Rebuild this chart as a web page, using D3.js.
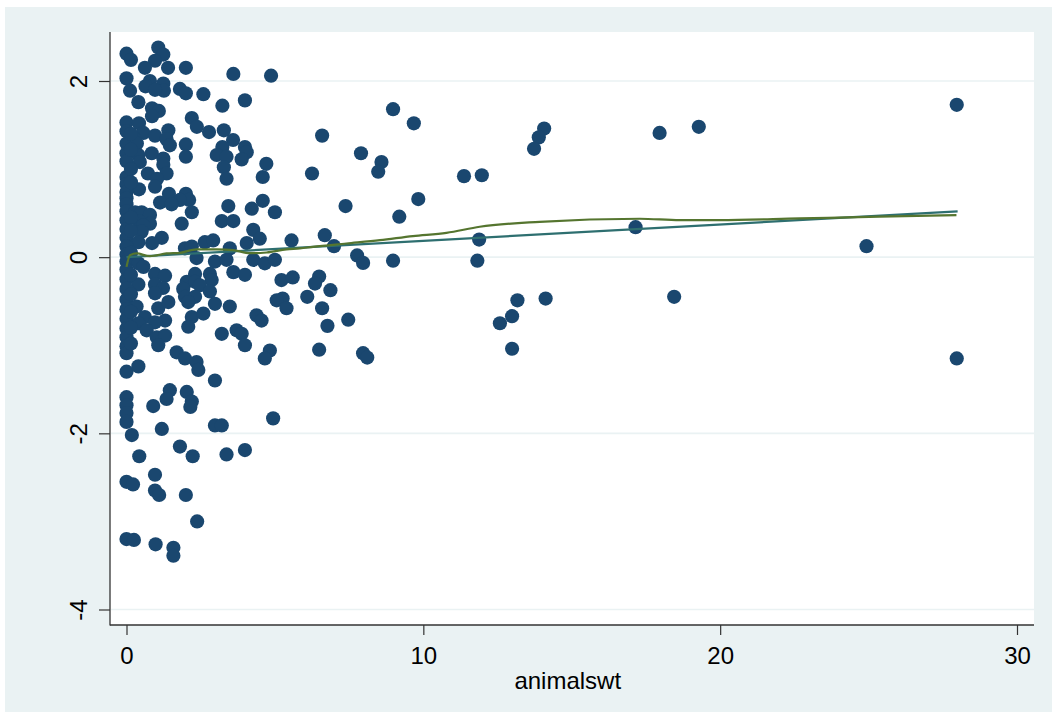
<!DOCTYPE html>
<html>
<head>
<meta charset="utf-8">
<script src="https://cdn.jsdelivr.net/npm/d3@7"></script>
<style>
  html, body { margin: 0; padding: 0; background: #ffffff; }
  svg { display: block; }
  text { font-family: Arial, "Liberation Sans", sans-serif; fill: #000; }
</style>
</head>
<body>
<svg id="chart" width="1058" height="719"></svg>
<script>
// Scatter of (animalswt, value) pairs
const points = [
  [0.00,2.31],[0.15,2.24],[1.07,2.38],[1.24,2.30],[0.96,2.23],[0.62,2.15],[1.40,2.15],[2.00,2.15],[0.00,2.03],[3.60,2.08],[4.87,2.06],[0.79,2.00],[0.64,1.94],[1.24,1.97],[1.26,1.89],[0.96,1.90],[0.12,1.89],[1.80,1.91],[2.00,1.86],[2.59,1.85],[0.40,1.76],[3.23,1.72],[3.99,1.78],[0.86,1.69],[1.09,1.66],[0.86,1.60],
  [0.00,1.53],[0.42,1.52],[2.20,1.58],[2.37,1.48],[2.78,1.42],[3.28,1.44],[1.41,1.44],[0.00,1.43],[0.57,1.41],[0.96,1.38],[0.23,1.36],[1.35,1.34],[3.59,1.33],[2.00,1.28],[0.00,1.29],[0.35,1.29],[1.46,1.27],[3.23,1.25],[3.99,1.25],[0.00,1.18],[0.40,1.16],[0.85,1.18],[3.04,1.16],[3.37,1.14],[4.05,1.19],[0.00,1.09],[0.45,1.08],[1.24,1.12],[2.00,1.14],[3.88,1.11],[4.71,1.06],[1.24,1.05],[3.28,1.02],
  [0.72,0.95],[1.35,0.95],[0.00,0.91],[1.03,0.89],[3.37,0.89],[4.59,0.91],[0.00,0.83],[0.96,0.80],[0.42,0.77],[0.00,0.74],[0.00,0.67],[1.43,0.72],[2.00,0.72],[2.11,0.65],[1.80,0.65],[4.59,0.64],[1.13,0.62],[1.52,0.60],[3.43,0.58],[4.22,0.55],[0.00,0.60],[0.00,0.52],[0.29,0.51],[0.51,0.51],[0.79,0.48],[2.20,0.51],[5.00,0.51],[0.00,0.42],[0.42,0.41],[0.79,0.38],[1.86,0.38],[3.21,0.41],[3.60,0.41],
  [0.57,0.36],[4.27,0.31],[0.00,0.32],[0.51,0.29],[4.49,0.21],[4.05,0.16],[5.56,0.19],[1.19,0.22],[0.00,0.22],[0.40,0.17],[0.86,0.16],[1.97,0.10],[2.20,0.12],[2.64,0.17],[2.92,0.19],[3.48,0.10],[0.00,0.12],[0.00,0.03],[6.68,0.25],[6.99,0.125],[7.77,0.02],[7.97,-0.065],[8.98,-0.04],[4.27,-0.03],[4.66,-0.07],[5.00,-0.03],[2.36,-0.01],[2.98,-0.05],[3.37,-0.03],[0.00,-0.05],[0.40,-0.07],[0.57,-0.11],
  [0.00,-0.14],[3.60,-0.17],[3.99,-0.20],[5.22,-0.26],[5.60,-0.23],[6.49,-0.22],[6.35,-0.30],[6.87,-0.375],[6.09,-0.45],[5.26,-0.47],[0.96,-0.19],[1.30,-0.21],[2.31,-0.19],[2.81,-0.19],[2.87,-0.26],[0.00,-0.25],[0.40,-0.31],[0.96,-0.31],[1.23,-0.35],[2.03,-0.28],[2.31,-0.28],[1.91,-0.36],[2.47,-0.32],[0.00,-0.36],[0.96,-0.41],[1.97,-0.45],[2.31,-0.45],[2.81,-0.39],[0.00,-0.48],
  [2.08,-0.51],[2.98,-0.53],[3.48,-0.56],[4.38,-0.66],[4.55,-0.72],[5.06,-0.49],[5.39,-0.58],[6.59,-0.58],[6.77,-0.78],[7.47,-0.71],[0.34,-0.56],[1.07,-0.58],[1.41,-0.51],[0.00,-0.59],[0.62,-0.68],[1.30,-0.72],[2.20,-0.68],[2.59,-0.64],[0.00,-0.70],[0.40,-0.75],[0.96,-0.74],[2.08,-0.79],[0.00,-0.81],[0.68,-0.83],[1.02,-0.91],[1.30,-0.89],[0.00,-0.91],[3.21,-0.87],[3.71,-0.83],[3.88,-0.87],[1.07,-1.00],[3.99,-1.00],[0.00,-1.01],[0.00,-1.09],[6.49,-1.05],[7.97,-1.09],[8.11,-1.14],[1.69,-1.08],[1.97,-1.15],[2.36,-1.19],[2.42,-1.28],[4.83,-1.06],[4.66,-1.15],[0.00,-1.30],[0.40,-1.24],
  [2.98,-1.40],[1.46,-1.51],[2.03,-1.53],[1.35,-1.61],[2.20,-1.64],[2.15,-1.70],[0.90,-1.69],[0.00,-1.59],[0.00,-1.68],[0.00,-1.77],[0.00,-1.87],[4.94,-1.83],[2.98,-1.91],[3.21,-1.91],[1.19,-1.95],[0.18,-2.02],[1.80,-2.15],[2.23,-2.26],[3.37,-2.24],[3.99,-2.19],[0.43,-2.26],[0.96,-2.47],[0.00,-2.55],[0.22,-2.58],[0.96,-2.65],[1.10,-2.70],[2.00,-2.70],[2.38,-3.00],[0.00,-3.20],[0.25,-3.21],[0.98,-3.26],[1.58,-3.30],[1.58,-3.39],
  [8.98,1.68],[9.68,1.52],[6.59,1.38],[7.90,1.18],[8.59,1.08],[8.48,0.97],[6.25,0.95],[11.37,0.92],[11.97,0.93],[7.38,0.58],[9.83,0.66],[9.19,0.46],[14.07,1.46],[13.89,1.36],[13.73,1.23],[11.88,0.20],[11.82,-0.04],[17.15,0.34],[13.17,-0.49],[14.12,-0.47],[12.99,-0.67],[12.58,-0.75],[12.99,-1.04],[27.97,1.73],[27.97,-1.15],[17.96,1.41],[19.28,1.48],[24.93,0.125],[18.45,-0.45],
  [0.15,1.40],[0.15,1.22],[0.15,1.00],[0.15,0.85],[0.15,0.45],[0.15,0.30],[0.15,0.05],[0.15,-0.20],[0.15,-0.42],[0.15,-0.62],[0.15,-0.80],[0.15,-0.98]
];

// Linear fit, endpoints
const fitX = [0, 28];
const fitY = [0.0, 0.52];

// Lowess smooth
const lowessX = [0.00, 0.12, 0.34, 0.79, 1.35, 1.80, 2.36, 3.04, 3.59, 4.16, 4.72, 5.39, 5.84, 6.28, 7.41, 8.54, 9.65, 10.78, 11.90, 13.92, 17.29, 18.64, 19.98, 22.68, 25.37, 27.96];
const lowessY = [-0.11, 0.023, 0.042, 0.011, 0.042, 0.049, 0.088, 0.088, 0.080, 0.045, 0.053, 0.088, 0.099, 0.117, 0.155, 0.193, 0.239, 0.276, 0.345, 0.401, 0.436, 0.420, 0.420, 0.440, 0.460, 0.477];

// Axis ticks
const xTicks = [0, 10, 20, 30];
const yTicks = [-4, -2, 0, 2];
const xTitle = "animalswt";

const svg = d3.select("#chart");
const W = 1058, H = 719;

// Outer panel and plot region
svg.append("rect").attr("x", 0).attr("y", 0).attr("width", W).attr("height", H).attr("fill", "#ffffff");
svg.append("rect").attr("x", 5).attr("y", 7).attr("width", 1047).attr("height", 705).attr("fill", "#eaf2f3");

const plot = { left: 110, top: 32, right: 1034, bottom: 625 };
svg.append("rect")
  .attr("x", plot.left).attr("y", plot.top)
  .attr("width", plot.right - plot.left).attr("height", plot.bottom - plot.top)
  .attr("fill", "#ffffff");

const x = d3.scaleLinear().domain([0, 30]).range([126.5, 1017]);
const y = d3.scaleLinear().domain([-4, 2]).range([609.5, 81]);

// Horizontal grid
svg.append("g").selectAll("line").data(yTicks).join("line")
  .attr("x1", plot.left + 1).attr("x2", plot.right)
  .attr("y1", d => y(d)).attr("y2", d => y(d))
  .attr("stroke", "#eaf2f3").attr("stroke-width", 1.6);

// Points
svg.append("clipPath").attr("id", "plotclip").append("rect")
  .attr("x", plot.left).attr("y", plot.top)
  .attr("width", plot.right - plot.left).attr("height", plot.bottom - plot.top);

const g = svg.append("g").attr("clip-path", "url(#plotclip)");
g.append("g").selectAll("circle").data(points).join("circle")
  .attr("cx", d => x(d[0])).attr("cy", d => y(d[1]))
  .attr("r", 7.1)
  .attr("fill", "#1a476f");

// Fitted line
const line = d3.line().x(d => x(d[0])).y(d => y(d[1]));
g.append("path")
  .datum(fitX.map((v, i) => [v, fitY[i]]))
  .attr("d", line)
  .attr("fill", "none").attr("stroke", "#2e6f70").attr("stroke-width", 2.2);

// Lowess line
g.append("path")
  .datum(lowessX.map((v, i) => [v, lowessY[i]]))
  .attr("d", d3.line().x(d => x(d[0])).y(d => y(d[1])).curve(d3.curveMonotoneX))
  .attr("fill", "none").attr("stroke", "#55752f").attr("stroke-width", 2.2);

// Axes
const yAxis = d3.axisLeft(y).tickValues(yTicks).tickSize(11).tickFormat(d3.format("d"));
const yG = svg.append("g").attr("transform", `translate(${plot.left},0)`).call(yAxis);
yG.select(".domain").remove();
yG.selectAll(".tick line").attr("stroke", "#333").attr("stroke-width", 1.2);
yG.selectAll(".tick text")
  .text(d => String(d).replace("\u2212", "-"))
  .attr("x", null).attr("dy", null)
  .attr("font-size", 24)
  .attr("text-anchor", "middle")
  .attr("transform", "translate(-32,0) rotate(-90)")
  .attr("dy", "0.36em")
  .style("font-family", "Arial, 'Liberation Sans', sans-serif")
  .attr("fill", "#000");

const xAxis = d3.axisBottom(x).tickValues(xTicks).tickSize(10).tickFormat(d3.format("d"));
const xG = svg.append("g").attr("transform", `translate(0,${plot.bottom})`).call(xAxis);
xG.select(".domain").remove();
xG.selectAll(".tick line").attr("stroke", "#333").attr("stroke-width", 1.2);
xG.selectAll(".tick text")
  .attr("y", 38.5).attr("dy", null)
  .attr("font-size", 24)
  .style("font-family", "Arial, 'Liberation Sans', sans-serif")
  .attr("fill", "#000");

// Axis lines
svg.append("line").attr("x1", plot.left).attr("x2", plot.left)
  .attr("y1", plot.top).attr("y2", plot.bottom + 0.5)
  .attr("stroke", "#333").attr("stroke-width", 1.3);
svg.append("line").attr("x1", plot.left).attr("x2", plot.right)
  .attr("y1", plot.bottom).attr("y2", plot.bottom)
  .attr("stroke", "#333").attr("stroke-width", 1.3);

// Axis title
svg.append("text")
  .attr("x", (x(0) + x(30)) / 2 - 4).attr("y", 689)
  .attr("text-anchor", "middle").attr("font-size", 24)
  .text(xTitle);
</script>
</body>
</html>
